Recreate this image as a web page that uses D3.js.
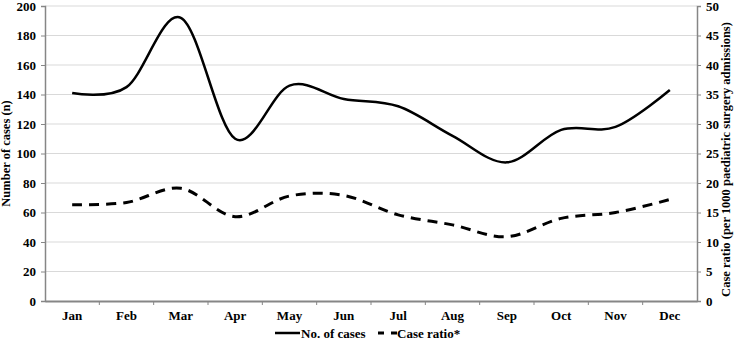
<!DOCTYPE html>
<html>
<head>
<meta charset="utf-8">
<script src="https://cdn.jsdelivr.net/npm/d3@7"></script>
<style>
  body { margin: 0; background: #fff; }
  text { font-family: "Liberation Serif", "Times New Roman", serif; font-weight: bold; fill: #000; }
</style>
</head>
<body>
<script>
const width = 738, height = 341;

const months = ["Jan", "Feb", "Mar", "Apr", "May", "Jun", "Jul", "Aug", "Sep", "Oct", "Nov", "Dec"];
const cases = [141, 145, 192, 110, 146, 137, 132, 112, 94, 116, 118, 143];
const ratio = [16.3, 16.7, 19.1, 14.3, 17.8, 17.9, 14.6, 12.9, 10.9, 14, 15, 17.2];
const leftTicks = [0, 20, 40, 60, 80, 100, 120, 140, 160, 180, 200];
const rightTicks = [0, 5, 10, 15, 20, 25, 30, 35, 40, 45, 50];

const margin = { top: 6, right: 41, bottom: 40, left: 45 };
const x0 = margin.left, x1 = width - margin.right;
const y0 = height - margin.bottom, y1 = margin.top;

const svg = d3.select("body").append("svg")
  .attr("width", width)
  .attr("height", height);

const x = d3.scaleBand().domain(months).range([x0, x1]);
const yL = d3.scaleLinear().domain([0, 200]).range([y0, y1]);
const yR = d3.scaleLinear().domain([0, 50]).range([y0, y1]);

// gridlines
svg.append("g").selectAll("line")
  .data(leftTicks.slice(1))
  .join("line")
  .attr("x1", x0).attr("x2", x1)
  .attr("y1", d => yL(d)).attr("y2", d => yL(d))
  .attr("stroke", "#d9d9d9").attr("stroke-width", 1);

// axes
const axisColor = "#868686";
function styleAxis(g) {
  g.selectAll("path, line").attr("stroke", axisColor);
  g.select(".domain").attr("stroke-width", 1.5);
  g.selectAll("text").attr("font-size", 13).attr("font-family", null).attr("fill", null);
}

svg.append("g")
  .attr("transform", `translate(${x0},0)`)
  .call(d3.axisLeft(yL).tickValues(leftTicks).tickSizeOuter(0).tickSize(4).tickPadding(5))
  .call(styleAxis);

svg.append("g")
  .attr("transform", `translate(${x1},0)`)
  .call(d3.axisRight(yR).tickValues(rightTicks).tickSizeOuter(0).tickSize(4).tickPadding(5))
  .call(styleAxis);

const xAxis = svg.append("g")
  .attr("transform", `translate(0,${y0})`)
  .call(d3.axisBottom(x).tickSize(0).tickPadding(10).tickSizeOuter(0))
  .call(styleAxis);
xAxis.select(".domain").attr("stroke-width", 2);

// category boundary ticks
svg.append("g").selectAll("line")
  .data(months.slice(1))
  .join("line")
  .attr("x1", d => x(d)).attr("x2", d => x(d))
  .attr("y1", y0).attr("y2", y0 + 4)
  .attr("stroke", axisColor);

// axis titles
svg.append("text")
  .attr("transform", `translate(10,${(y0 + y1) / 2}) rotate(-90)`)
  .attr("text-anchor", "middle")
  .attr("font-size", 12.5)
  .text("Number of cases (n)");

svg.append("text")
  .attr("transform", `translate(730,${(y0 + y1) / 2 + 6}) rotate(-90)`)
  .attr("text-anchor", "middle")
  .attr("font-size", 12.5)
  .text("Case ratio (per 1000 paediatric surgery admissions)");

// lines
const cx = d => x(d) + x.bandwidth() / 2;

const lineCases = d3.line()
  .x((d, i) => cx(months[i]))
  .y(d => yL(d))
  .curve(d3.curveCatmullRom.alpha(0));

const lineRatio = d3.line()
  .x((d, i) => cx(months[i]))
  .y(d => yR(d))
  .curve(d3.curveCatmullRom.alpha(0));

svg.append("path")
  .datum(cases)
  .attr("d", lineCases)
  .attr("fill", "none")
  .attr("stroke", "#000")
  .attr("stroke-width", 2.5);

svg.append("path")
  .datum(ratio)
  .attr("d", lineRatio)
  .attr("fill", "none")
  .attr("stroke", "#000")
  .attr("stroke-width", 3)
  .attr("stroke-dasharray", "10,7");

// legend
const legY = 333;
const leg = svg.append("g");
leg.append("line")
  .attr("x1", 275).attr("x2", 300)
  .attr("y1", legY).attr("y2", legY)
  .attr("stroke", "#000").attr("stroke-width", 2.5);
leg.append("text")
  .attr("x", 301).attr("y", legY + 4.5)
  .attr("font-size", 13)
  .text("No. of cases");
leg.append("line")
  .attr("x1", 378).attr("x2", 397)
  .attr("y1", legY).attr("y2", legY)
  .attr("stroke", "#000").attr("stroke-width", 3)
  .attr("stroke-dasharray", "6,7");
leg.append("text")
  .attr("x", 397).attr("y", legY + 4.5)
  .attr("font-size", 13)
  .text("Case ratio*");
</script>
</body>
</html>
